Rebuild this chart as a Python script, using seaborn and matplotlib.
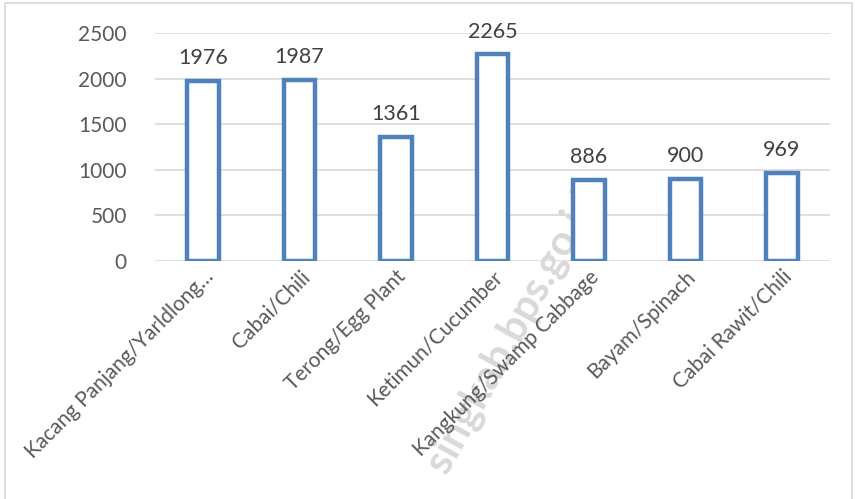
import matplotlib
matplotlib.use("Agg")
import matplotlib.pyplot as plt
import seaborn as sns
import pandas as pd
from matplotlib.patches import Rectangle

# --- Data ---
categories = [
    "Kacang Panjang/Yarldlong…",
    "Cabai/Chili",
    "Terong/Egg Plant",
    "Ketimun/Cucumber",
    "Kangkung/Swamp Cabbage",
    "Bayam/Spinach",
    "Cabai Rawit/Chili",
]
values = [1976, 1987, 1361, 2265, 886, 900, 969]
y_ticks = [0, 500, 1000, 1500, 2000, 2500]

BLUE = "#4f81bd"
TEXT = "#595959"

sns.set_theme(style="white")
plt.rcParams["font.family"] = ["Lato", "DejaVu Sans"]

df = pd.DataFrame({"category": categories, "value": values})

fig = plt.figure(figsize=(8.55, 4.99), dpi=100)

# watermark, behind the axes
fig.text(0.6, 0.335, "singkab.bps.go.id", rotation=61, fontsize=30, color="#d9d9d9",
         ha="center", va="center", fontweight="bold", zorder=-1)

ax = fig.add_axes([0.181, 0.477, 0.79, 0.457])
ax.patch.set_alpha(0)

sns.barplot(data=df, x="category", y="value", ax=ax, color="white",
            edgecolor=BLUE, linewidth=3.2, width=0.33, saturation=1, zorder=3)

ax.set_ylim(0, 2500)
ax.set_yticks(y_ticks)
ax.yaxis.grid(True, color="#d9d9d9", linewidth=1.2, zorder=0)
ax.set_axisbelow(True)
for s in ax.spines.values():
    s.set_visible(False)
ax.set_xlabel("")
ax.set_ylabel("")
ax.tick_params(axis="y", colors=TEXT, labelsize=15, length=0, pad=20)
ax.tick_params(axis="x", colors=TEXT, labelsize=15, length=0, pad=4)
plt.setp(ax.get_xticklabels(), rotation=45, ha="right", rotation_mode="anchor")

for i, v in enumerate(values):
    ax.text(i, v + 140, str(v), ha="center", va="bottom", color="#404040", fontsize=15.5)

# outer frame
fig.patches.append(Rectangle((0.006, -0.02), 0.99, 1.013, transform=fig.transFigure,
                             fill=False, edgecolor="#d9d9d9", linewidth=1.2))

fig.savefig("out.png", dpi=100)
